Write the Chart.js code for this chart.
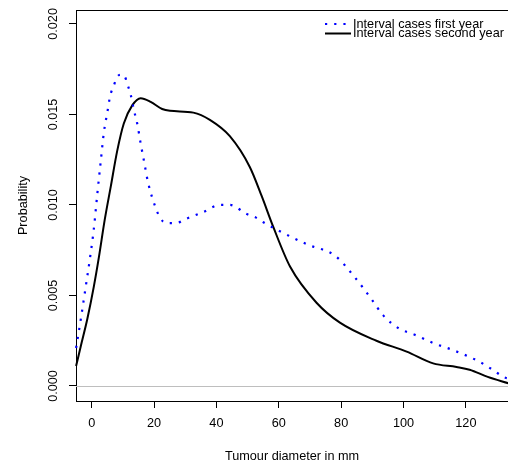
<!DOCTYPE html>
<html>
<head>
<meta charset="utf-8">
<script src="https://cdn.jsdelivr.net/npm/chart.js@4/dist/chart.umd.min.js"></script>
<style>
  html, body { margin: 0; padding: 0; background: #ffffff; overflow: hidden; }
  #wrap { width: 508px; height: 464px; }
</style>
</head>
<body>
<div id="wrap"><canvas id="c" width="508" height="464"></canvas></div>
<script>
// ---- data ----
const xFirst = [-5, -4.8, -3.3, -1.9, -0.6, 0.7, 1.8, 2.9, 3.9, 5, 5.9, 7.1, 8.3, 9.5, 10.6, 11.6, 12.5, 13.6, 14.6, 15.7, 16.8, 18, 19.6, 21.9, 24, 27.2, 29.8, 35.7, 41.1, 44.3, 49.7, 52.7, 55.5, 60.9, 69.4, 78, 84.4, 89.7, 93.5, 98.3, 104, 109.7, 115.6, 121.2, 124.1, 126.8, 129.4, 132, 133.6];
const yFirst = [0.0021, 0.0023, 0.0039, 0.0055, 0.0070, 0.0087, 0.0106, 0.0124, 0.0140, 0.0151, 0.0160, 0.0166, 0.0171, 0.0172, 0.0171, 0.0166, 0.0161, 0.0152, 0.0145, 0.0134, 0.0124, 0.0113, 0.0103, 0.0093, 0.0090, 0.0090, 0.0092, 0.0096, 0.0100, 0.0100, 0.0095, 0.0093, 0.0090, 0.0085, 0.0078, 0.0072, 0.0060, 0.0048, 0.0039, 0.0032, 0.0028, 0.00236, 0.0020, 0.0016, 0.00136, 0.00109, 0.0008, 0.0005, 0.0004];

const xSecond = [-5, -3.5, -1.4, 0.7, 2.3, 4.2, 6.1, 8.2, 10.3, 13, 15.7, 18.9, 22.6, 25.1, 32.6, 37.9, 44.3, 50.7, 54.5, 58.2, 63.6, 72.1, 79.6, 91.3, 101, 109.5, 117, 121.2, 127, 133.6];
const ySecond = [0.0011, 0.0022, 0.0037, 0.0055, 0.0071, 0.0092, 0.0110, 0.0130, 0.0145, 0.0155, 0.0159, 0.0157, 0.0153, 0.0152, 0.0151, 0.0147, 0.0138, 0.0121, 0.0105, 0.0088, 0.0066, 0.0046, 0.0035, 0.0025, 0.0019, 0.00125, 0.00105, 0.0009, 0.0005, 0.00015];

const seriesLabels = ["Interval cases first year", "Interval cases second year"];
const xTicks = [0, 20, 40, 60, 80, 100, 120];
const yTicks = [0.000, 0.005, 0.010, 0.015, 0.020];
const xTitle = "Tumour diameter in mm";
const yTitle = "Probability";

// ---- chart ----
const FONT = "'Liberation Sans', Arial, sans-serif";
const FS = 12.7;
Chart.defaults.font.family = FONT;
Chart.defaults.font.size = FS;
Chart.defaults.color = '#000000';

const toPts = (xs, ys) => xs.map((x, i) => ({ x: x, y: ys[i] }));

const framePlugin = {
  id: 'frame',
  beforeDatasetsDraw(chart) {
    const { ctx, chartArea: a, scales } = chart;
    ctx.save();
    // horizontal reference line at zero
    const y0 = Math.round(scales.y.getPixelForValue(0)) + 0.5;
    ctx.strokeStyle = '#bebebe';
    ctx.lineWidth = 1;
    ctx.beginPath();
    ctx.moveTo(a.left, y0);
    ctx.lineTo(a.right, y0);
    ctx.stroke();
    // top border of the box
    ctx.strokeStyle = '#000000';
    ctx.beginPath();
    ctx.moveTo(a.left, a.top + 0.5);
    ctx.lineTo(a.right, a.top + 0.5);
    ctx.stroke();
    ctx.restore();
  },
  afterDraw(chart) {
    const { ctx } = chart;
    const ds = chart.data.datasets;
    const lineX0 = 325, lineX1 = 351, textX = 353;
    const rowsY = [24, 33.5];
    ctx.save();
    ctx.font = FS + "px " + FONT;
    ctx.textBaseline = 'middle';
    ctx.textAlign = 'left';
    ds.forEach((d, i) => {
      const y = rowsY[i];
      ctx.strokeStyle = d.borderColor;
      ctx.lineWidth = d.borderWidth;
      ctx.setLineDash(d.borderDash || []);
      ctx.lineCap = 'butt';
      ctx.beginPath();
      ctx.moveTo(lineX0, y);
      ctx.lineTo(lineX1, y);
      ctx.stroke();
      ctx.setLineDash([]);
      ctx.fillStyle = '#000000';
      ctx.fillText(d.label, textX, y);
    });
    ctx.restore();
  }
};

new Chart(document.getElementById('c'), {
  type: 'line',
  data: {
    datasets: [
      {
        label: seriesLabels[0],
        data: toPts(xFirst, yFirst),
        borderColor: '#0000ff',
        borderWidth: 2.2,
        borderDash: [2.2, 7],
        pointRadius: 0,
        fill: false,
        cubicInterpolationMode: 'monotone'
      },
      {
        label: seriesLabels[1],
        data: toPts(xSecond, ySecond),
        borderColor: '#000000',
        borderWidth: 2,
        pointRadius: 0,
        fill: false,
        cubicInterpolationMode: 'monotone'
      }
    ]
  },
  options: {
    responsive: false,
    animation: false,
    clip: false,
    layout: { padding: { top: 10, left: 0, right: 0, bottom: 0 } },
    plugins: { legend: { display: false }, tooltip: { enabled: false } },
    scales: {
      x: {
        type: 'linear',
        min: -5.03,
        max: 133.5,
        afterFit(s) { s.height = 63; },
        afterBuildTicks(s) { s.ticks = xTicks.map(v => ({ value: v })); },
        ticks: {
          callback: v => String(v),
          padding: 8,
          maxRotation: 0,
          autoSkip: false
        },
        grid: { drawOnChartArea: false, drawTicks: true, tickLength: 7, tickColor: '#000000', tickWidth: 1 },
        border: { display: true, color: '#000000', width: 1 },
        title: { display: true, text: xTitle, padding: { top: 0, bottom: 0 } }
      },
      y: {
        type: 'linear',
        min: -0.00083,
        max: 0.02077,
        afterFit(s) { s.width = 76; },
        afterBuildTicks(s) { s.ticks = yTicks.map(v => ({ value: v })); },
        ticks: {
          callback: v => v.toFixed(3),
          minRotation: 90,
          maxRotation: 90,
          crossAlign: 'center',
          padding: 0,
          autoSkip: false
        },
        grid: { drawOnChartArea: false, drawTicks: true, tickLength: 7, tickColor: '#000000', tickWidth: 1 },
        border: { display: true, color: '#000000', width: 1 },
        title: { display: true, text: yTitle, padding: { top: 16, bottom: 0 } }
      }
    }
  },
  plugins: [framePlugin]
});
</script>
</body>
</html>
